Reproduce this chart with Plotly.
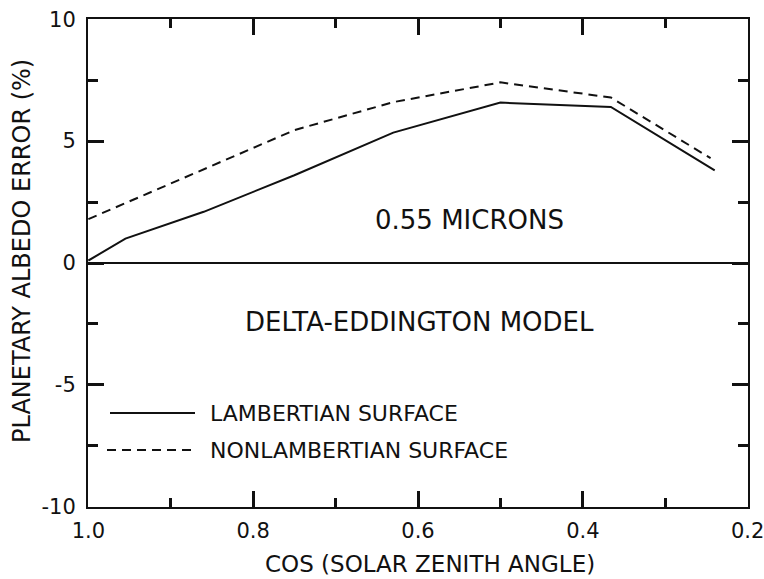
import plotly.graph_objects as go

# ---- data ----
cos_lambertian = [1.0, 0.955, 0.86, 0.75, 0.63, 0.50, 0.366, 0.24]
err_lambertian = [0.1, 1.0, 2.1, 3.6, 5.35, 6.58, 6.40, 3.8]
cos_nonlambertian = [1.0, 0.75, 0.63, 0.50, 0.366, 0.245]
err_nonlambertian = [1.8, 5.45, 6.6, 7.41, 6.79, 4.3]

series_names = ["LAMBERTIAN SURFACE", "NONLAMBERTIAN SURFACE"]
x_tickvals = [1.0, 0.8, 0.6, 0.4, 0.2]
x_ticktext = ["1.0", "0.8", "0.6", "0.4", "0.2"]
y_tickvals = [-10, -5, 0, 5, 10]
y_ticktext = ["-10", "-5", "0", "5", "10"]

# ---- layout geometry (pixels) ----
W, H = 764, 579
L, R, T, B = 88, 748, 19, 507
pw, ph = R - L, B - T

def px(x):
    return (x - L) / pw

def py(y):
    return (B - y) / ph

FONT = "DejaVu Sans"
INK = "#111111"

fig = go.Figure()
fig.add_trace(go.Scatter(x=cos_lambertian, y=err_lambertian, mode="lines",
                         name=series_names[0], showlegend=False,
                         line=dict(color=INK, width=2)))
fig.add_trace(go.Scatter(x=cos_nonlambertian, y=err_nonlambertian, mode="lines",
                         name=series_names[1], showlegend=False,
                         line=dict(color=INK, width=2, dash="9px,6px")))

# legend keys
fig.add_shape(type="line", xref="paper", yref="paper",
              x0=px(110), x1=px(195), y0=py(413), y1=py(413),
              line=dict(color=INK, width=2))
fig.add_shape(type="line", xref="paper", yref="paper",
              x0=px(107), x1=px(195), y0=py(450), y1=py(450),
              line=dict(color=INK, width=2, dash="9px,6px"))

annotations = [
    dict(text=series_names[0], x=px(208), y=py(413), xanchor="left", yanchor="middle",
         font=dict(size=22)),
    dict(text=series_names[1], x=px(208), y=py(450), xanchor="left", yanchor="middle",
         font=dict(size=22)),
    dict(text="0.55 MICRONS", x=px(469), y=py(220), xanchor="center", yanchor="middle",
         font=dict(size=26)),
    dict(text="DELTA-EDDINGTON MODEL", x=px(243), y=py(322), xanchor="left", yanchor="middle",
         font=dict(size=26)),
    dict(text="PLANETARY ALBEDO ERROR (%)", x=px(22), y=py(251), xanchor="center",
         yanchor="middle", textangle=-90, font=dict(size=24)),
    dict(text="COS (SOLAR ZENITH ANGLE)", x=px(430), y=py(564), xanchor="center",
         yanchor="middle", font=dict(size=23)),
]
for a in annotations:
    a.update(xref="paper", yref="paper", showarrow=False)
    a["font"].update(family=FONT, color=INK)

axis_common = dict(showline=True, linecolor=INK, linewidth=2, mirror="ticks",
                   ticks="inside", tickcolor=INK, tickwidth=2.5, ticklen=16,
                   showgrid=False, automargin=False,
                   tickfont=dict(family=FONT, size=21, color=INK))

fig.update_xaxes(range=[1.0004, 0.1996], tickvals=x_tickvals, ticktext=x_ticktext,
                 zeroline=False, ticklabeloverflow="allow",
                 minor=dict(dtick=0.1, ticks="inside", ticklen=9, tickwidth=2.5,
                            tickcolor=INK, showgrid=False),
                 ticklabelstandoff=4, **axis_common)
fig.update_yaxes(range=[-10.01, 10.01], tickvals=y_tickvals, ticktext=y_ticktext,
                 zeroline=True, zerolinecolor=INK, zerolinewidth=2,
                 minor=dict(dtick=2.5, ticks="inside", ticklen=10, tickwidth=2.5,
                            tickcolor=INK, showgrid=False),
                 ticklabelstandoff=6, **axis_common)

fig.update_layout(width=W, height=H,
                  margin=dict(l=L, r=W - R, t=T, b=H - B, pad=0, autoexpand=False),
                  paper_bgcolor="white", plot_bgcolor="white",
                  annotations=annotations,
                  font=dict(family=FONT, color=INK))

fig.write_html("out.html")
